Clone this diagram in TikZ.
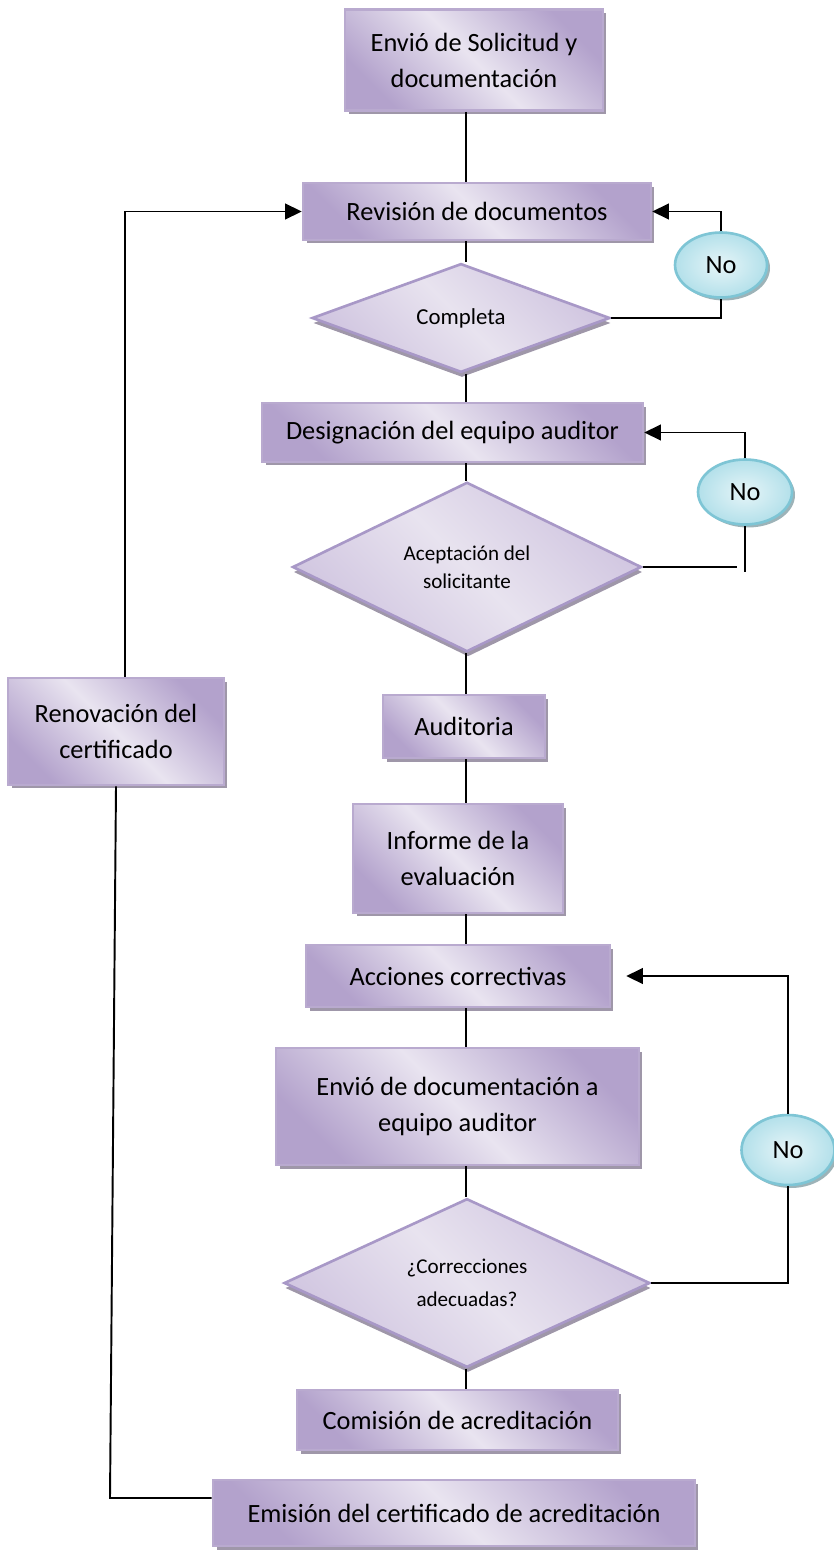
\documentclass[tikz,border=0pt]{standalone}
\usepackage{fontspec}
\setmainfont{Carlito}
\usetikzlibrary{shapes.geometric,shadows,arrows.meta}
\definecolor{BoxDark}{HTML}{B3A2CC}
\definecolor{BoxLight}{HTML}{E9E4F0}
\definecolor{BoxEdge}{HTML}{B9AACF}
\definecolor{BoxShade}{HTML}{9F97A9}
\definecolor{DiaDark}{HTML}{D0C5E0}
\definecolor{DiaLight}{HTML}{E8E3EF}
\definecolor{DiaEdge}{HTML}{A898C7}
\definecolor{NoDark}{HTML}{B3E0EA}
\definecolor{NoLight}{HTML}{E6F5F8}
\definecolor{NoEdge}{HTML}{7EC5D5}
\definecolor{NoShade}{HTML}{9DB3B8}

\tikzset{
  procbox/.style={draw=BoxEdge,line width=1.5pt,top color=BoxDark,bottom color=BoxDark,middle color=BoxLight,shading angle=-45,
    drop shadow={shadow xshift=0.07cm,shadow yshift=-0.07cm,fill=BoxShade,opacity=1},
    inner sep=0pt,align=center,font=\fontsize{15}{20.5}\selectfont},
  decision/.style={diamond,draw=DiaEdge,line width=1.5pt,top color=DiaDark,bottom color=DiaDark,middle color=DiaLight,shading angle=-45,
    drop shadow={shadow xshift=0.02cm,shadow yshift=-0.1cm,fill=BoxShade,opacity=1},
    inner sep=0pt,align=center,font=\fontsize{12}{16}\selectfont},
  nobubble/.style={ellipse,draw=NoEdge,line width=1.5pt,inner color=NoLight,outer color=NoDark,
    drop shadow={shadow xshift=0.06cm,shadow yshift=-0.06cm,fill=NoShade,opacity=1},
    inner sep=0pt,font=\fontsize{15}{18}\selectfont},
  flow/.style={line width=1.1pt},
  loopback/.style={flow,-{Triangle[length=9.5pt,width=9pt]}}
}

\begin{document}
\begin{tikzpicture}[x=0.02cm,y=-0.02cm]
  \useasboundingbox (0,0) rectangle (833,1551);
  \coordinate (mx) at (466,0);

  % main column
  \node[procbox,minimum width=5.16cm,minimum height=2.02cm] (env) at (474,60) {Envió de Solicitud y\\documentación};
  \node[procbox,minimum width=6.96cm,minimum height=1.14cm] (rev) at (477,211.5) {Revisión de documentos};
  \node[decision,minimum width=5.96cm,minimum height=1.8cm,font=\fontsize{13}{16}\selectfont] (comp) at (461,318) {Completa};
  \node[procbox,minimum width=7.62cm,minimum height=1.18cm] (des) at (452.5,432.5) {Designación del equipo auditor};
  \node[decision,minimum width=6.98cm,minimum height=3.2cm] (acep) at (467,567) {Aceptación del\\solicitante};
  \node[procbox,minimum width=3.24cm,minimum height=1.26cm] (aud) at (464,726.5) {Auditoria};
  \node[procbox,minimum width=4.2cm,minimum height=2.18cm] (inf) at (458,858.5) {Informe de la\\evaluación};
  \node[procbox,minimum width=6.08cm,minimum height=1.24cm] (acc) at (458,976) {Acciones correctivas};
  \node[procbox,minimum width=7.26cm,minimum height=2.34cm] (envd) at (457.5,1106.5) {Envió de documentación a\\equipo auditor};
  \node[decision,minimum width=7.32cm,minimum height=3.16cm,font=\fontsize{12}{19}\selectfont] (corr) at (467,1283) {¿Correcciones\\adecuadas?};
  \node[procbox,minimum width=6.42cm,minimum height=1.2cm] (com) at (457.5,1420) {Comisión de acreditación};
  \node[procbox,minimum width=9.64cm,minimum height=1.32cm] (emi) at (454,1513) {Emisión del certificado de acreditación};
  \node[procbox,minimum width=4.32cm,minimum height=2.14cm] (ren) at (116,731.5) {Renovación del\\certificado};

  % "No" bubbles
  \node[nobubble,minimum width=1.84cm,minimum height=1.3cm] (no1) at (721,265) {No};
  \node[nobubble,minimum width=1.88cm,minimum height=1.3cm] (no2) at (745,492) {No};
  \node[nobubble,minimum width=1.86cm,minimum height=1.4cm] (no3) at (788,1150) {No};

  \draw[flow] (env.south -| mx) -- (rev.north -| mx);
  \draw[flow] (rev.south -| mx) -- (comp.north -| mx);
  \draw[flow] (comp.south -| mx) -- (des.north -| mx);
  \draw[flow] (des.south -| mx) -- (acep.north -| mx);
  \draw[flow] (acep.south -| mx) -- (aud.north -| mx);
  \draw[flow] (aud.south -| mx) -- (inf.north -| mx);
  \draw[flow] (inf.south -| mx) -- (acc.north -| mx);
  \draw[flow] (acc.south -| mx) -- (envd.north -| mx);
  \draw[flow] (envd.south -| mx) -- (corr.north -| mx);
  \draw[flow] (corr.south -| mx) -- (com.north -| mx);

  % loops back
  \draw[flow] (comp.east) -| (no1.south);
  \draw[loopback] (no1.north) |- (rev.east);
  \coordinate (n2end) at (737,567);
  \coordinate (n2low) at (745,572);
  \draw[flow] (acep.east) -- (n2end);
  \draw[flow] (no2.south) -- (n2low);
  \draw[loopback] (no2.north) |- (des.east);
  \draw[flow] (corr.east) -| (no3.south);
  \draw[loopback,shorten >=0.3cm] (no3.north) |- (acc.east);

  % renewal
  \coordinate (rencorner) at (110,1498);
  \draw[flow] (ren.south) -- (rencorner) -- (rencorner -| emi.west);
  \draw[loopback] ([xshift=0.18cm]ren.north) |- (rev.west);
\end{tikzpicture}
\end{document}
